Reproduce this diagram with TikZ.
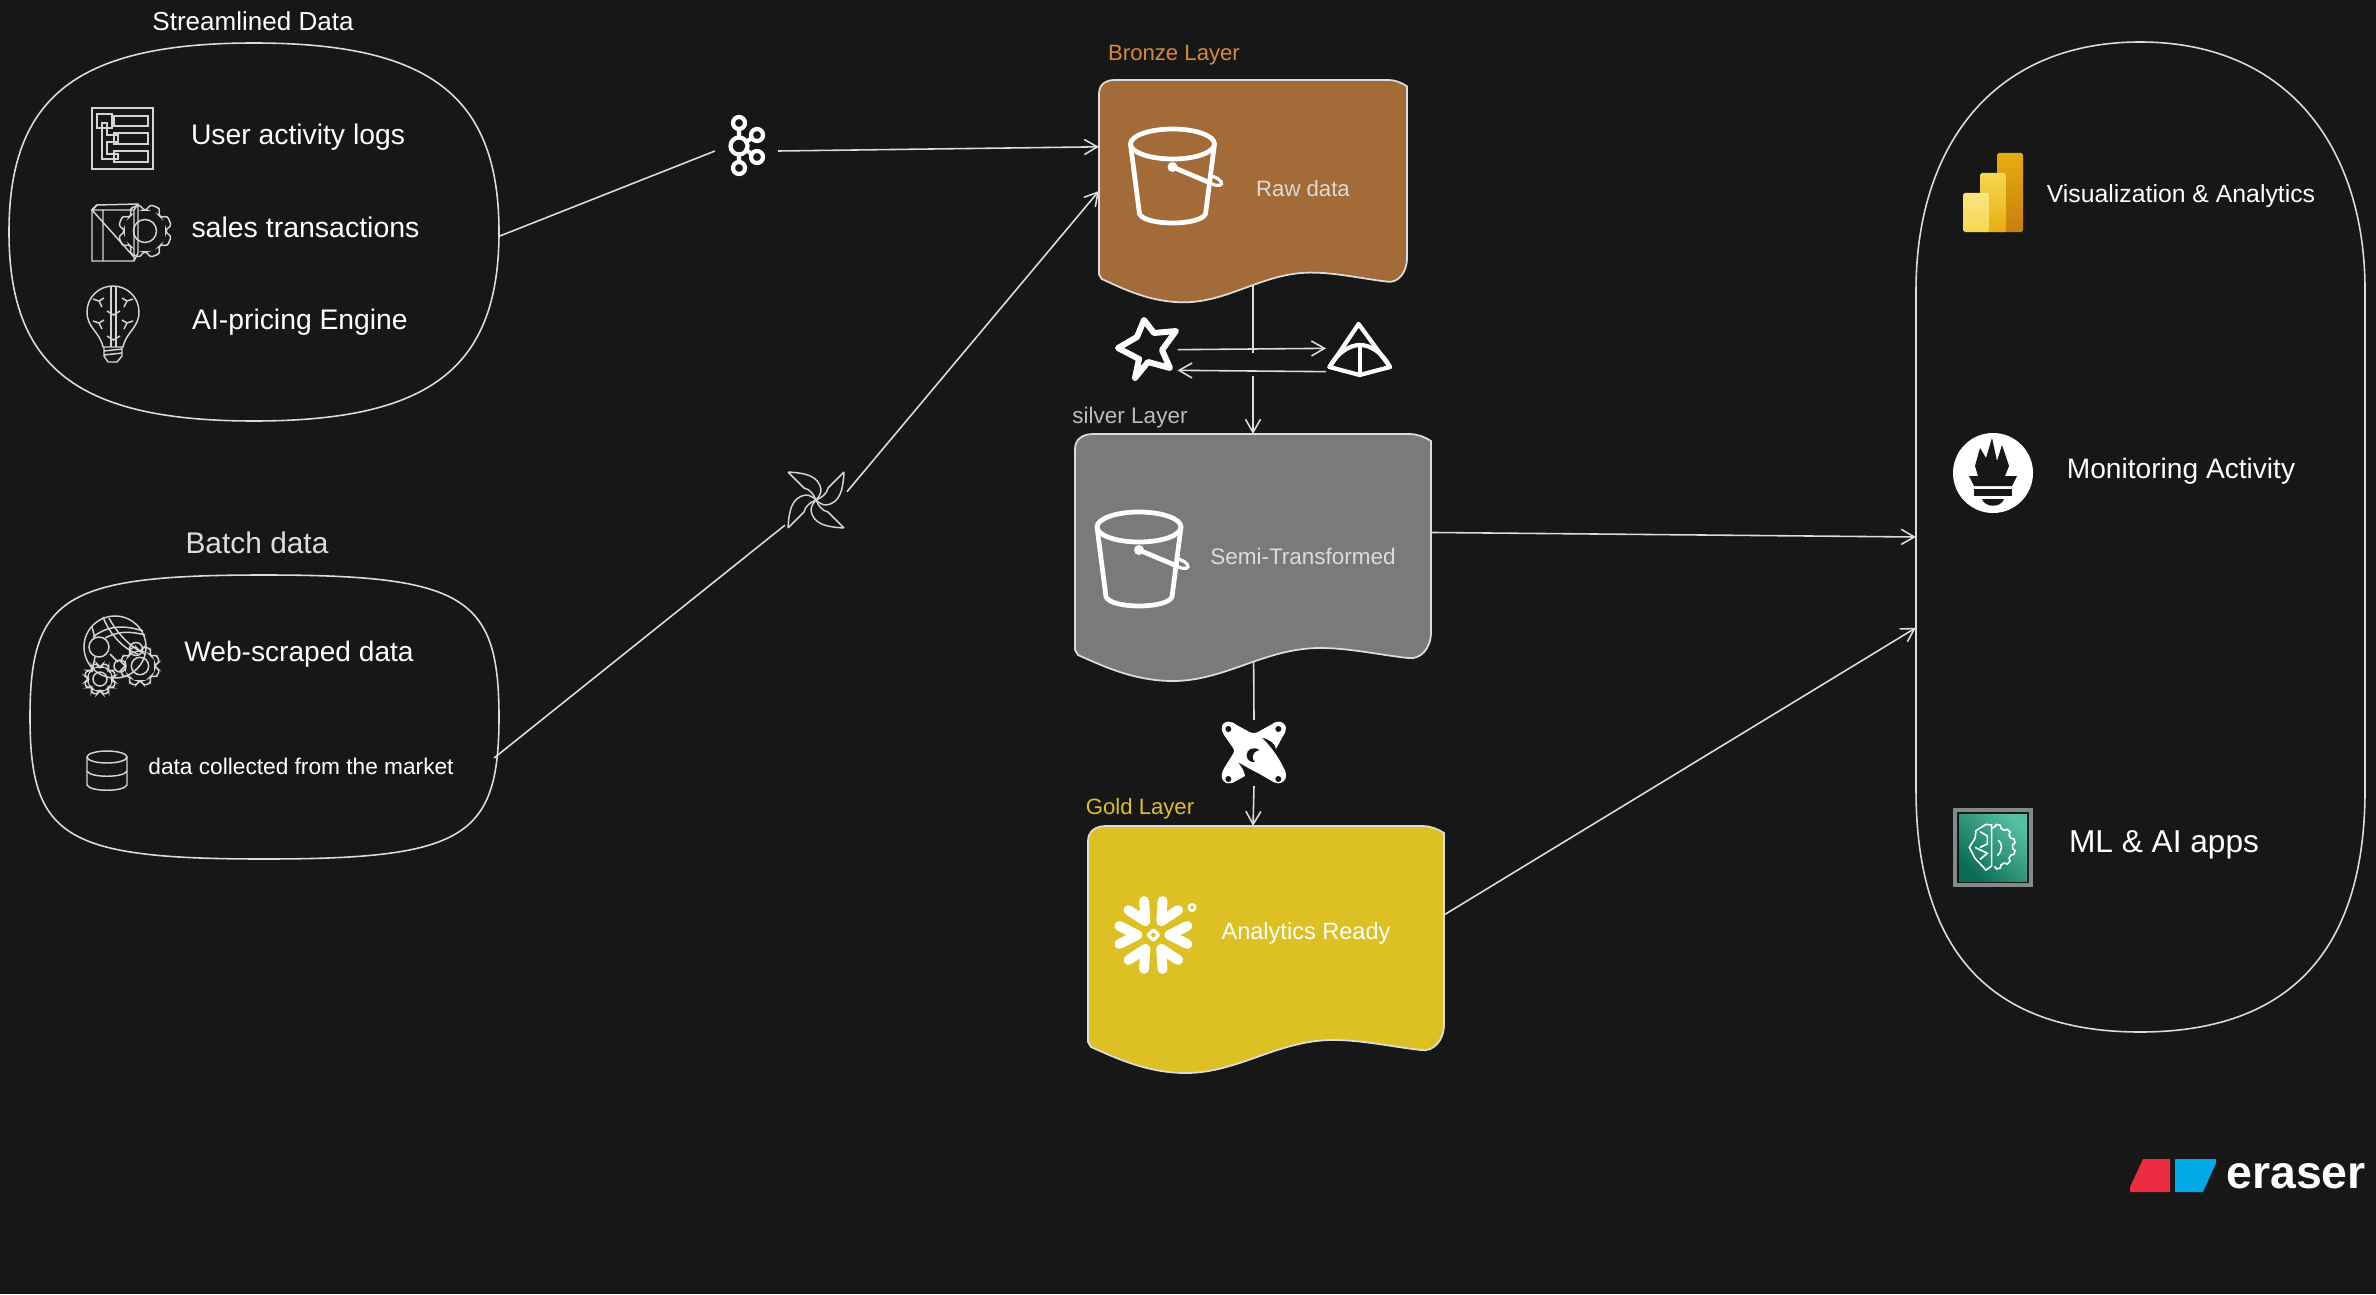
\documentclass[tikz,border=0pt]{standalone}
\usepackage{fontspec}
\setmainfont{Liberation Sans}
\usetikzlibrary{arrows.meta, calc}
\definecolor{canvas}{HTML}{171717}
\definecolor{linecol}{HTML}{DCDCDC}
\definecolor{iconcol}{HTML}{D4D4D4}
\definecolor{bronzefill}{HTML}{A36B37}
\definecolor{bronzetext}{HTML}{D68A36}
\definecolor{silverfill}{HTML}{7A7A7A}
\definecolor{goldfill}{HTML}{DDC024}
\definecolor{biA}{HTML}{E6AD10}
\definecolor{biB}{HTML}{C87E0E}
\definecolor{biC}{HTML}{F6D751}
\definecolor{biD}{HTML}{F9E583}
\definecolor{tealtop}{HTML}{55BFA0}
\definecolor{tealbot}{HTML}{0B6B55}
\definecolor{mlframe}{HTML}{7E8C8E}
\definecolor{eraserred}{HTML}{EC2C40}
\definecolor{eraserblue}{HTML}{00A9E5}
\newcommand{\cogwheel}[4]{%
  \draw[thinicon, rounded corners=0.8pt] ($(#1,#2)+(5:#4)$)
    \foreach \a in {0,45,...,315} { -- ($(#1,#2)+(\a+5:#4)$) -- ($(#1,#2)+(\a+11:#3)$) -- ($(#1,#2)+(\a+34:#3)$) -- ($(#1,#2)+(\a+40:#4)$) } -- cycle;
}
\tikzset{
  flow/.style={draw=linecol, line width=0.45pt},
  thinicon/.style={draw=iconcol, line width=0.42pt},
  boldicon/.style={draw=white, line width=1.2pt, line join=round, line cap=round},
  hitbox/.style={inner sep=0pt, outer sep=0pt},
  lbl/.style={text=white, inner sep=0pt, font=\fontsize{#1}{12}\selectfont},
  layerdoc/.pic={
    \path[pic actions, draw=linecol, line width=0.5pt]
      (0,15) .. controls (0,5) and (8,0) .. (18,0) -- (335,0) .. controls (342,0) and (350,3) .. (356,7)
      -- (356,198) .. controls (356,215) and (345,226) .. (333,224) .. controls (305,221) and (275,214) .. (245,214)
      .. controls (190,214) and (150,247) .. (98,247) .. controls (60,247) and (30,233) .. (3,221) -- (0,216) -- cycle;
  },
  bucket/.pic={
    \draw[boldicon, draw=#1, line width=1.35pt] (0,0) ellipse [x radius=42, y radius=15];
    \draw[boldicon, draw=#1, line width=1.35pt] (-42,0) -- (-33,70) .. controls (-30,76) and (-15,79) .. (0,79)
      .. controls (15,79) and (30,76) .. (33,70) -- (42,0);
    \draw[boldicon, draw=#1, line width=1.35pt] (0,23) -- (38,39);
    \fill[#1] (0,23) circle (5);
    \draw[draw=#1, line width=0.9pt] (36,31) .. controls (44,33) and (50,37) .. (49,40) .. controls (48,43) and (40,41) .. (34,38);
  },
  pinblade/.pic={
    \draw[thinicon, line join=round] (-28,-28) -- (-12,-12) .. controls (-6,-11) and (-2,-5) .. (0,0)
      .. controls (2,-2) and (5,-6) .. (5,-10) .. controls (3,-25) and (-12,-27) .. (-28,-28);
  }
}
\begin{document}
\begin{tikzpicture}[x=0.01cm, y=-0.01cm, >={Straight Barb[length=1.3mm, width=1.5mm]}]
  \useasboundingbox (0,0) rectangle (2376,1294);
  \fill[canvas] (0,0) rectangle (2376,1294);

  \node[hitbox, minimum width=4.9cm, minimum height=3.78cm] (streamed) at (254,232) {};
  \node[hitbox, minimum width=4.64cm, minimum height=2.84cm] (batched) at (262,717) {};
  \node[hitbox, minimum width=4.49cm, minimum height=9.9cm] (apps) at (2140.5,537) {};
  \node[hitbox, minimum width=3.08cm, minimum height=2.22cm] (bronze) at (1253,191) {};
  \node[hitbox, minimum width=3.56cm, minimum height=2.47cm] (silver) at (1253,557.5) {};
  \node[hitbox, minimum width=3.56cm, minimum height=2.47cm] (gold) at (1266,949.5) {};
  \node[hitbox, minimum width=0.63cm, minimum height=0.6cm] (kafka) at (746.5,151) {};
  \node[hitbox, minimum width=0.62cm, minimum height=0.62cm] (airflow) at (816,500) {};
  \node[hitbox, minimum width=0.6cm, minimum height=0.6cm] (spark) at (1147.5,360) {};
  \node[hitbox, minimum width=0.64cm, minimum height=0.6cm] (iceberg) at (1358,360) {};
  \node[hitbox, minimum width=0.64cm, minimum height=0.66cm] (dbt) at (1254,753) {};
  \coordinate (gapTop) at (1253,353);
  \coordinate (gapBot) at (1253,376);

  \draw[flow] (streamed.-1.4) -- (kafka.west);
  \draw[flow, ->] (kafka.east) -- (bronze.164);
  \draw[flow] (batched.-10) -- (airflow.219);
  \draw[flow, ->] (airflow.15) -- (bronze.west);
  \draw[flow] (bronze.center) -- (gapTop);
  \draw[flow, ->] (gapBot) -- (silver.north);
  \draw[flow, ->] (spark.19) -- (iceberg.160);
  \draw[flow, ->] (iceberg.200) -- (spark.-19);
  \draw[flow] (silver.center) -- (dbt.north);
  \draw[flow, ->] (dbt.south) -- (gold.96);
  \draw[flow, ->] (silver.8.5) -- (apps.west);
  \draw[flow, ->] (gold.11.6) -- (apps.202.5);

  \draw[flow] (9,232) .. controls (9,96) and (78,43) .. (254,43) .. controls (430,43) and (499,96) .. (499,232)
    .. controls (499,368) and (430,421) .. (254,421) .. controls (78,421) and (9,368) .. (9,232) -- cycle;
  \draw[flow] (30,717) .. controls (30,596) and (65,575) .. (264,575) .. controls (464,575) and (499,596) .. (499,717)
    .. controls (499,838) and (464,859) .. (264,859) .. controls (65,859) and (30,838) .. (30,717) -- cycle;
  \draw[flow] (1916,290) .. controls (1916,150) and (1990,42) .. (2140,42) .. controls (2290,42) and (2365,150) .. (2365,290)
    -- (2365,790) .. controls (2365,950) and (2290,1032) .. (2140,1032) .. controls (1990,1032) and (1916,950) .. (1916,790) -- cycle;

  \pic[fill=bronzefill, xscale=0.865, yscale=0.9] at (1099,80) {layerdoc};
  \pic[fill=silverfill] at (1075,434) {layerdoc};
  \pic[fill=goldfill] at (1088,826) {layerdoc};

  \node[lbl=7.4] (streamedTitle) at (253,21) {Streamlined Data};
  \node[lbl=8.05] (userlogs) at (298,137) {User activity logs};
  \node[lbl=8.1] (salestx) at (305.5,227) {sales transactions};
  \node[lbl=8.05] (pricing) at (300,322) {AI-pricing Engine};
  \node[lbl=8.5, text=linecol] (batchTitle) at (257,543) {Batch data};
  \node[lbl=8] (webdata) at (299,654) {Web-scraped data};
  \node[lbl=6.45] (marketdata) at (301,766) {data collected from the market};
  \node[lbl=6.3, text=bronzetext] (bronzeTitle) at (1174,55) {Bronze Layer};
  \node[lbl=6.4, text=linecol!85!black] (silverTitle) at (1130,418) {silver Layer};
  \node[lbl=6.3, text=goldfill] (goldTitle) at (1140,809) {Gold Layer};
  \node[lbl=6.3, text=linecol] (rawdata) at (1303,189) {Raw data};
  \node[lbl=6.4, text=linecol] (semidata) at (1303,556) {Semi-Transformed};
  \node[lbl=6.7] (readydata) at (1306,933) {Analytics Ready};
  \node[lbl=7.05] (vizapp) at (2181,196) {Visualization \& Analytics};
  \node[lbl=8] (monitorapp) at (2181,471) {Monitoring Activity};
  \node[lbl=9] (mlapp) at (2164,845) {ML \& AI apps};

  \pic at (1172.5,144) {bucket=white};
  \pic at (1139,527) {bucket=white};

  \draw[boldicon] (739,123) circle (6) (739,146) circle (8.5) (757,135) circle (6) (757,157) circle (6) (739,168) circle (6);
  \draw[boldicon] (739,129) -- (739,137) (739,155) -- (739,162) (746,142) -- (752,138) (746,150) -- (752,154);

  \foreach \a in {0,90,180,270} {
    \pic[rotate=\a] at (816,500) {pinblade};
  }

  \draw[boldicon, line width=1.7pt] (1144,320) -- (1154,333) -- (1176,331) -- (1162,350) -- (1170,368) -- (1148,362)
    -- (1135,378) -- (1139,359) -- (1118,348) -- (1137,337) -- cycle;

  \draw[boldicon] (1358.6,324) -- (1329.5,367) -- (1359.6,375) -- (1390,367) -- cycle;
  \draw[boldicon] (1329.5,367) .. controls (1338,352) and (1350,345) .. (1360,345) .. controls (1370,345) and (1382,352) .. (1390,367);
  \draw[boldicon] (1360,345) -- (1360,375);

  \begin{scope}[shift={(1200,700)}, scale=0.3333]
    \fill[white] (65,85) .. controls (65,72) and (75,65) .. (85,65) .. controls (95,65) and (100,68) .. (110,75) -- (150,97)
      .. controls (158,100) and (165,100) .. (172,97) -- (215,73) .. controls (225,66) and (230,65) .. (237,65)
      .. controls (248,65) and (258,75) .. (258,85) .. controls (258,95) and (253,102) .. (248,110) -- (228,147)
      .. controls (225,130) and (210,118) .. (185,113) .. controls (205,130) and (235,170) .. (248,198)
      .. controls (254,208) and (258,215) .. (258,228) .. controls (258,240) and (247,250) .. (235,250)
      .. controls (225,250) and (218,245) .. (210,240) -- (172,218) .. controls (150,208) and (130,195) .. (113,186)
      .. controls (125,200) and (133,215) .. (135,228) -- (110,242) .. controls (98,250) and (92,250) .. (85,250)
      .. controls (75,250) and (65,240) .. (65,228) .. controls (65,220) and (68,212) .. (72,205) -- (100,160)
      .. controls (103,155) and (103,150) .. (100,145) -- (72,105) .. controls (68,98) and (65,92) .. (65,85) -- cycle;
    \fill[canvas] (85,87) circle (9) (235,87) circle (9) (85,237) circle (9) (235,237) circle (9);
    \fill[canvas] (178,150) .. controls (160,138) and (140,148) .. (140,165) .. controls (140,178) and (150,188) .. (165,186)
      .. controls (155,178) and (152,158) .. (178,150) -- cycle;
  \end{scope}

  \begin{scope}[shift={(1153.3,935)}]
    \foreach \a in {0,60,...,300} {
      \draw[white, line width=2.8pt, line cap=round, line join=round, rotate=\a] (34,-9) -- (16,0) -- (34,9);
    }
    \fill[white, rounded corners=0.5pt] (-7.5,0) -- (0,-7.5) -- (7.5,0) -- (0,7.5) -- cycle;
    \fill[goldfill] (-2.7,0) -- (0,-2.7) -- (2.7,0) -- (0,2.7) -- cycle;
    \draw[white, line width=0.7pt] (38.7,-27.5) circle (3.2);
  \end{scope}

  \draw[thinicon] (92,108) rectangle (153,169);
  \draw[thinicon] (97,114) rectangle (112,128) (114,116) rectangle (148,126) (114,133) rectangle (148,144) (114,151) rectangle (148,162);
  \draw[thinicon] (102,123) -- (102,159) -- (118,159) -- (118,154) -- (107,154) -- (107,142) -- (118,142) -- (118,135) -- (107,135) -- (107,123) -- cycle;

  \draw[thinicon] (92,210) -- (97,205) -- (138,204) -- (138,253) -- (134,261) -- (92,261) -- cycle;
  \draw[thinicon] (92,210) -- (134,210) -- (134,261) (97,205) -- (92,210) -- (134,257) (103,210) -- (103,261) (134,210) -- (138,204);
  \cogwheel{145}{231}{27}{21}
  \draw[thinicon] (145,231) circle (11.5);

  \draw[thinicon] (103,347) .. controls (100,332) and (87,328) .. (87,312) .. controls (87,297) and (99,286) .. (113,286)
    .. controls (127,286) and (139,297) .. (139,312) .. controls (139,328) and (126,332) .. (123,347) -- cycle;
  \draw[thinicon] (111,286) -- (111,347) (116,286) -- (116,347);
  \draw[thinicon] (104,347) -- (104,356) -- (108,362) -- (117,362) -- (122,356) -- (122,347) (104,351) -- (122,349) (104,355) -- (122,353);
  \foreach \px/\py/\sx in {99/301/1, 127/301/-1, 99/323/1, 127/323/-1} {
    \draw[thinicon] (\px,\py) -- ++(3*\sx,6) (\px,\py) -- ++(-6*\sx,-2) (\px,\py) -- ++(5*\sx,-3);
  }
  \draw[thinicon] (107,311) -- (113.5,315) -- (120,311) (107,336) -- (113.5,340) -- (120,336);

  \draw[thinicon] (115,647) circle (31);
  \draw[thinicon, fill=canvas] (99,647) circle (10);
  \draw[thinicon] (103,617) .. controls (112,640) and (130,652) .. (138,654) (109,618) .. controls (118,635) and (132,648) .. (145,654);
  \draw[thinicon] (93,637) .. controls (108,625) and (125,625) .. (143,631) (105,638) .. controls (118,631) and (130,631) .. (145,635);
  \draw[thinicon] (92,627) -- (95,638) (110,654) -- (118,662) (95,657) -- (92,672);
  \draw[thinicon] (136,649) circle (6.5) (120,666) circle (6) (140,666) circle (8.7) (100,679) circle (7);
  \cogwheel{100}{679}{16}{12}
  \cogwheel{140}{666}{20}{15}

  \draw[thinicon] (107,757) ellipse [x radius=20, y radius=6];
  \draw[thinicon] (87,757) -- (87,785) .. controls (90,792) and (124,792) .. (127,785) -- (127,757);
  \draw[thinicon] (87,771) .. controls (90,778) and (124,778) .. (127,771);

  \shade[top color=biA, bottom color=biB, rounded corners=0.5pt] (1997,153) rectangle (2023,232);
  \shade[top color=biC, bottom color=biA, rounded corners=0.5pt] (1980,173) rectangle (2006,232);
  \shade[top color=biD, bottom color=biC, rounded corners=0.5pt] (1963,193) rectangle (1989,232);

  \begin{scope}[shift={(1993,473)}]
    \fill[white] (0,0) circle (40);
    \fill[canvas] (-15,3) -- (-18,-7) -- (-13,-25) -- (-7,-15) -- (-1,-35) -- (4,-12) -- (9,-28) -- (16,-7) -- (12,3) -- (24,3) -- (19,13) -- (-19,13) -- (-24,3) -- cycle;
    \fill[canvas] (-19,16) rectangle (19,23);
    \fill[canvas] (-11,26) .. controls (-8,35) and (8,35) .. (11,26) -- cycle;
  \end{scope}

  \draw[line width=1pt, draw=mlframe] (1955,810) rectangle (2031,885);
  \shade[top color=tealtop, bottom color=tealbot, shading angle=-45] (1959,814) rectangle (2027,881);
  \begin{scope}[shift={(1900,760)}, scale=0.3333]
    \draw[white, line width=0.45pt] (275,195) -- (258,193) -- (228,212) -- (225,235) -- (208,262) -- (225,295) -- (258,330) -- (275,318) -- cycle;
    \draw[white, line width=0.45pt] (240,215) -- (262,228) -- (262,252) -- (240,262) (225,262) -- (262,280) -- (240,298);
    \draw[white, line width=0.45pt] (290,196) \foreach \a in {-75,-45,...,75} { -- ($(278,260)+(\a-10:60)$) -- ($(278,260)+(\a-5:68)$) -- ($(278,260)+(\a+5:68)$) -- ($(278,260)+(\a+10:60)$) } -- (290,325);
    \draw[white, line width=0.45pt] (295,240) .. controls (308,252) and (308,272) .. (292,287);
  \end{scope}

  \fill[eraserred] (2143,1159) -- (2170,1159) -- (2170,1192) -- (2130,1192) -- (2130,1187) -- cycle;
  \fill[eraserblue] (2175,1159) -- (2216,1159) -- (2216,1163) -- (2203,1192) -- (2175,1192) -- cycle;
  \node[lbl=13.2] (eraserMark) at (2296,1176) {\bfseries eraser};
\end{tikzpicture}
\end{document}
